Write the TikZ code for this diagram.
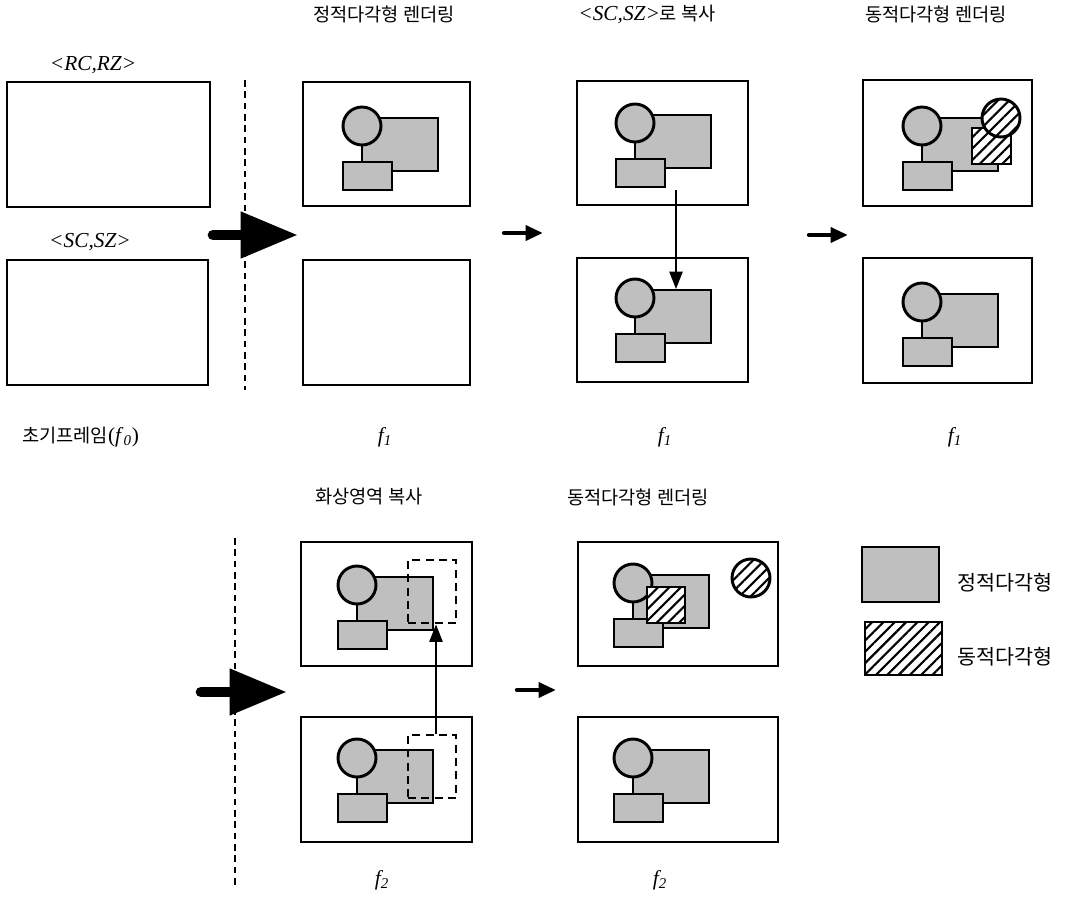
\documentclass[tikz,border=0pt]{standalone}
\usepackage{fontspec}
\setmainfont{Liberation Serif}
\newfontfamily\kr{Noto Sans CJK KR}
\usetikzlibrary{arrows.meta,patterns.meta,calc,fit}
\begin{document}
\begin{tikzpicture}[x=0.75pt,y=-0.75pt,
  frame/.style={draw,line width=1.7pt,inner sep=0pt,fill=none},
  shp/.style={draw,line width=2.2pt,fill=black!25},
  hatch/.style={draw,line width=2.2pt,fill=white,postaction={pattern={Lines[angle=45,distance=6pt,line width=1.6pt]}}},
  dashbox/.style={draw,line width=2.2pt,dash pattern=on 6pt off 4pt,inner sep=0pt},
  sep/.style={line width=1.5pt,dash pattern=on 5pt off 3.5pt},
  bigarrow/.style={line width=8pt,line cap=round,-{Triangle[length=43pt,width=33pt]}},
  smallarrow/.style={line width=3.2pt,line cap=round,-{Triangle[length=13pt,width=11pt]}},
  thinarrow/.style={line width=0.9pt,-{Triangle[length=13pt,width=10pt]}},
  kt/.style={font=\kr\fontsize{14pt}{16pt}\selectfont,inner sep=0pt},
  kl/.style={font=\kr\fontsize{15.5pt}{18pt}\selectfont,inner sep=0pt},
  lt/.style={font=\fontsize{16pt}{18pt}\selectfont\itshape,inner sep=0pt},
  scene/.pic={
    \draw[shp] (0,-8) rectangle (76,45);
    \draw[shp] (0,0) circle[radius=19];
    \draw[shp] (-19,36) rectangle (30,64);
  }]
\useasboundingbox (0,0) rectangle (1068,906);

% ---- titles ----
\node[kt] (t1) at (384,14) {정적다각형 렌더링};
\node[kt] (t2) at (647,14) {\fontsize{16pt}{18pt}\selectfont\rmfamily\itshape <SC,SZ>\kr\fontsize{14pt}{16pt}\selectfont 로 복사};
\node[kt] (t3) at (936,14) {동적다각형 렌더링};
\node[lt] (lrc) at (93,65) {<RC,RZ>};
\node[lt] (lsc) at (90,242) {<SC,SZ>};

% ---- top row frames ----
\node[frame,fit={(7,82) (210,207)}] (F0a) {};
\node[frame,fit={(7,260) (208,385)}] (F0b) {};
\node[frame,fit={(303,82) (470,206)}] (F1a) {};
\node[frame,fit={(303,260) (470,385)}] (F1b) {};
\node[frame,fit={(577,81) (748,205)}] (F2a) {};
\node[frame,fit={(577,258) (748,382)}] (F2b) {};
\node[frame,fit={(863,80) (1032,206)}] (F3a) {};
\node[frame,fit={(863,258) (1032,383)}] (F3b) {};

% scenes top row
\pic at (362,126) {scene};
\pic at (635,123) {scene};
\pic at (635,298) {scene};
\pic at (922,126) {scene};
\pic at (922,302) {scene};
\draw[hatch] (972,128) rectangle (1011,164);
\draw[hatch] (1001,118) circle[radius=19];

% copy arrow
\coordinate (c1) at (676,190);
\coordinate (c2) at (676,289);
\draw[thinarrow] (c1) -- (c2);

% separators and arrows top
\coordinate (d1) at (245,80);
\coordinate (d2) at (245,390);
\draw[sep] (d1) -- (d2);
\coordinate (a1) at (213,235);
\coordinate (a2) at (298,235);
\draw[bigarrow] (a1) -- (a2);
\coordinate (s1) at (504,233);
\coordinate (s2) at (543,233);
\draw[smallarrow] (s1) -- (s2);
\coordinate (s3) at (809,235);
\coordinate (s4) at (848,235);
\draw[smallarrow] (s3) -- (s4);

% captions top
\node[kt,anchor=west] (cap0) at (22,437) {초기프레임\rmfamily\fontsize{16pt}{18pt}\selectfont(\textit{f}\textsubscript{\textit{0}})};
\node[lt] (f1a) at (385,437) {f\textsubscript{1}};
\node[lt] (f1b) at (665,437) {f\textsubscript{1}};
\node[lt] (f1c) at (955,437) {f\textsubscript{1}};

% ---- bottom row ----
\node[kt] (t4) at (369,497) {화상영역 복사};
\node[kt] (t5) at (638,497) {동적다각형 렌더링};

\node[frame,fit={(301,542) (472,666)}] (G1a) {};
\node[frame,fit={(301,717) (472,842)}] (G1b) {};
\node[frame,fit={(578,542) (778,666)}] (G2a) {};
\node[frame,fit={(578,717) (778,842)}] (G2b) {};

\pic at (357,585) {scene};
\pic at (357,758) {scene};
\pic at (633,583) {scene};
\pic at (633,758) {scene};
\draw[hatch] (647,587) rectangle (685,623);
\draw[hatch] (751,578) circle[radius=19];

\node[dashbox,fit={(408,560) (456,623)}] (D1) {};
\node[dashbox,fit={(408,735) (456,798)}] (D2) {};
\draw[thinarrow] ($(D2.north)+(4,0)$) -- ($(D1.south)+(4,0)$);

\coordinate (d3) at (235,538);
\coordinate (d4) at (235,888);
\draw[sep] (d3) -- (d4);
\coordinate (a3) at (201,692);
\coordinate (a4) at (287,692);
\draw[bigarrow] (a3) -- (a4);
\coordinate (s5) at (517,690);
\coordinate (s6) at (556,690);
\draw[smallarrow] (s5) -- (s6);

\node[lt] (f2a) at (382,880) {f\textsubscript{2}};
\node[lt] (f2b) at (660,880) {f\textsubscript{2}};

% ---- legend ----
\node[shp,inner sep=0pt,fit={(862,547) (939,602)}] (L1) {};
\node[hatch,inner sep=0pt,fit={(865,622) (942,675)}] (L2) {};
\node[kl,anchor=west] (L1t) at (957,583) {정적다각형};
\node[kl,anchor=west] (L2t) at (957,657) {동적다각형};
\end{tikzpicture}
\end{document}
